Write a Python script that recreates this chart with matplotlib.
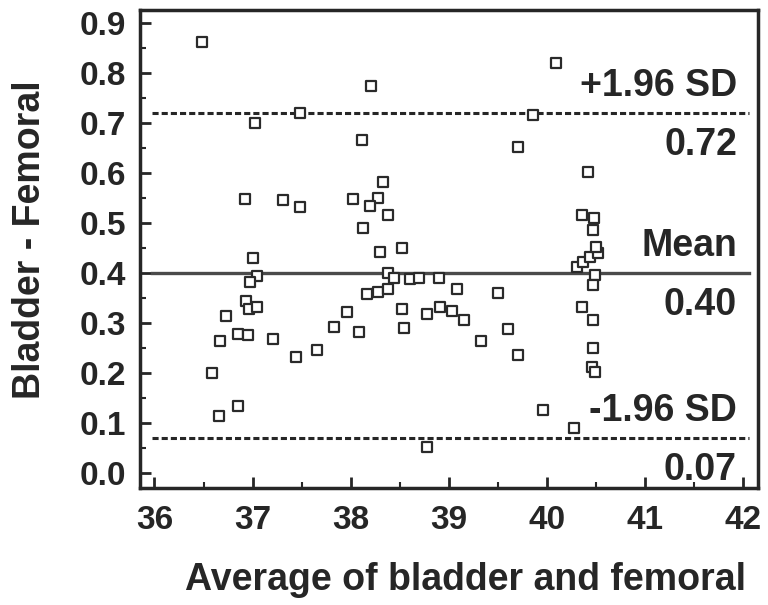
import matplotlib
matplotlib.use("Agg")
import matplotlib.pyplot as plt
from matplotlib.ticker import MultipleLocator

plt.rcParams['font.family'] = ['Liberation Sans', 'DejaVu Sans']
plt.rcParams['font.weight'] = 'bold'

# Average of bladder and femoral temperatures
avg = [36.48, 38.21, 37.02, 37.48, 38.11, 38.33, 36.92, 37.31, 37.48, 38.02,
       38.28, 38.20, 38.38, 38.12, 37.00, 37.04, 36.97, 36.93, 36.96, 37.04,
       36.73, 36.85, 36.95, 36.67, 37.21, 37.44, 37.66, 37.83, 37.96, 38.08,
       36.59, 36.66, 36.85, 38.30, 38.52, 38.38, 38.44, 38.60, 38.70, 38.90,
       38.17, 38.28, 38.38, 38.52, 38.54, 38.78, 38.91, 39.03, 39.08, 39.15,
       39.33, 38.78, 39.50, 39.60, 39.70, 39.96, 40.27, 40.31, 40.37, 40.44,
       40.52, 40.49, 40.47, 40.36, 40.47, 40.47, 40.46, 40.49, 40.09, 39.86,
       39.70, 40.42, 40.36, 40.48, 40.47, 40.50]
# Difference bladder - femoral
diff = [0.862, 0.774, 0.700, 0.720, 0.666, 0.582, 0.548, 0.546, 0.532, 0.548,
        0.550, 0.534, 0.516, 0.490, 0.430, 0.394, 0.382, 0.344, 0.328, 0.332,
        0.314, 0.278, 0.276, 0.264, 0.268, 0.232, 0.246, 0.292, 0.322, 0.282,
        0.200, 0.114, 0.134, 0.442, 0.450, 0.400, 0.390, 0.388, 0.390, 0.390,
        0.358, 0.362, 0.368, 0.328, 0.290, 0.318, 0.332, 0.324, 0.368, 0.306,
        0.264, 0.052, 0.360, 0.288, 0.236, 0.126, 0.090, 0.412, 0.422, 0.432,
        0.440, 0.396, 0.376, 0.332, 0.306, 0.250, 0.212, 0.202, 0.820, 0.716,
        0.652, 0.602, 0.516, 0.510, 0.486, 0.452]

mean_diff = 0.40
upper = 0.72
lower = 0.07

ink = '#262626'

fig = plt.figure(figsize=(7.68, 6.05), dpi=100)
ax = fig.add_axes([0.182, 0.193, 0.805, 0.790])

ax.scatter(avg, diff, marker='s', s=42, facecolors='white',
           edgecolors='#2a2a2a', linewidths=1.6, zorder=3)

ax.axhline(mean_diff, xmin=0.02, xmax=0.985, color='#4a4a4a', lw=2.4, zorder=2)
for v in (upper, lower):
    ax.axhline(v, xmin=0.02, xmax=0.985, color=ink, lw=2.2,
               dashes=(2.0, 1.0), zorder=2)

tx = 0.966
fs = 27
trans = ax.get_yaxis_transform()
for level, name in ((upper, '+1.96 SD'), (mean_diff, 'Mean'), (lower, '-1.96 SD')):
    ax.text(tx, level + 0.018, name, transform=trans, ha='right', va='bottom',
            fontsize=fs, fontweight='bold', color=ink)
    ax.text(tx, level - 0.028, f'{level:.2f}', transform=trans, ha='right', va='top',
            fontsize=fs, fontweight='bold', color=ink)

ax.set_xlim(35.85, 42.15)
ax.set_ylim(-0.03, 0.926)
ax.set_xticks([36, 37, 38, 39, 40, 41, 42])
ax.set_yticks([0.0, 0.1, 0.2, 0.3, 0.4, 0.5, 0.6, 0.7, 0.8, 0.9])
ax.xaxis.set_minor_locator(MultipleLocator(0.5))
ax.yaxis.set_minor_locator(MultipleLocator(0.05))
ax.tick_params(which='major', direction='in', length=8, width=2, colors=ink,
               labelsize=24, top=False, right=False)
ax.tick_params(axis='x', which='major', pad=12)
ax.tick_params(axis='y', which='major', pad=10)
ax.tick_params(which='minor', direction='in', length=4, width=1.5, colors=ink,
               top=False, right=False)
for lab in ax.get_xticklabels() + ax.get_yticklabels():
    lab.set_fontweight('bold')

for sp in ax.spines.values():
    sp.set_linewidth(2.5)
    sp.set_color(ink)

ax.set_xlabel('Average of bladder and femoral', fontsize=27, fontweight='bold',
              color=ink)
ax.set_ylabel('Bladder - Femoral', fontsize=27, fontweight='bold', color=ink)
ax.xaxis.set_label_coords(0.527, -0.155)
ax.yaxis.set_label_coords(-0.148, 0.52)

fig.savefig('out.png', dpi=100, facecolor='white')
